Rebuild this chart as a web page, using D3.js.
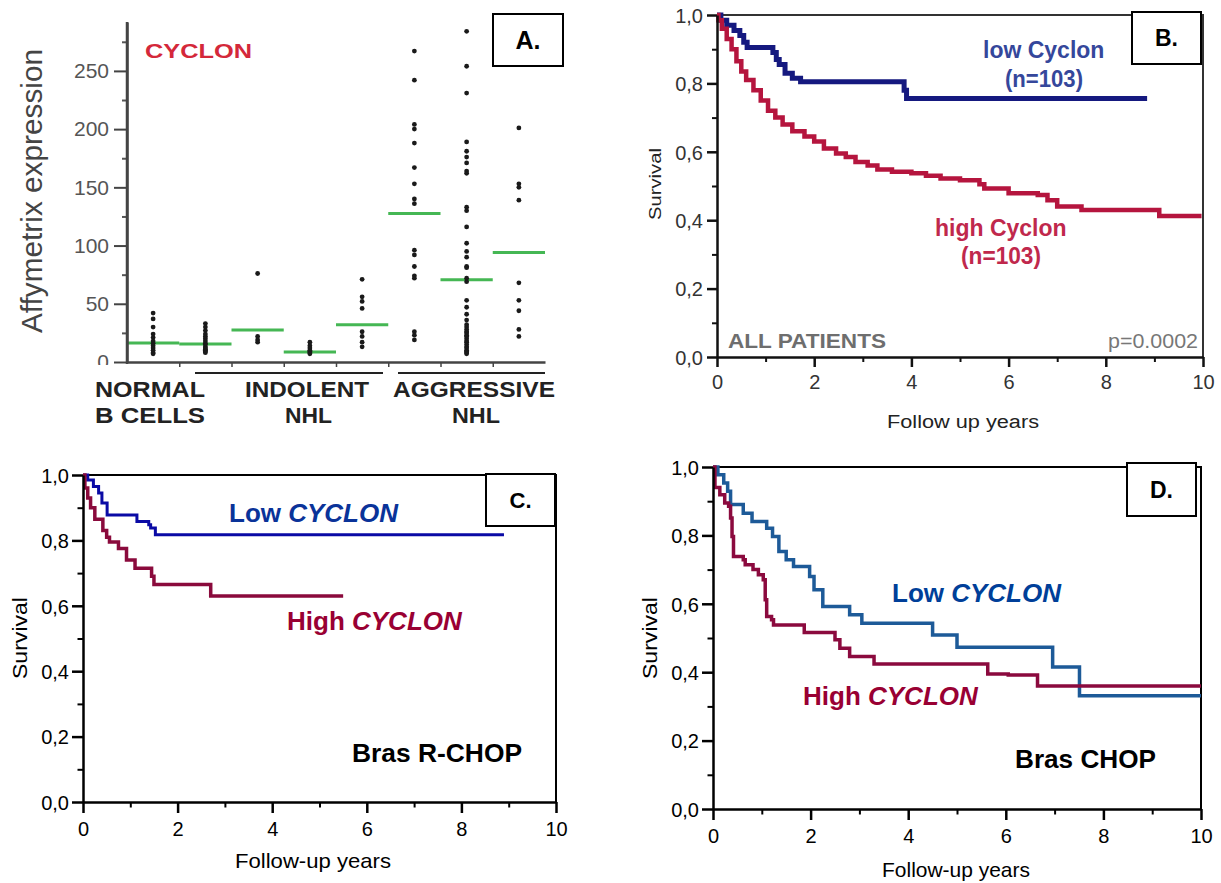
<!DOCTYPE html>
<html><head><meta charset="utf-8">
<script src="https://cdn.jsdelivr.net/npm/d3@7"></script>
<style>
body{margin:0;background:#fff}
svg{display:block}
text{font-family:"Liberation Sans",Arial,Helvetica,sans-serif}
</style>
</head><body>
<svg id="chart" width="1221" height="883"></svg>
<script>
// ---------------- Panel A data ----------------
const aColumns = ["Normal B 1","Normal B 2","Indolent 1","Indolent 2","Indolent 3","Aggressive 1","Aggressive 2","Aggressive 3"];
const normal1 = [42,37,30,24,21,18,16,14,12,10,8,7];
const normal2 = [33,30,27,24,22,20,18,16,15,13,12,11,10,9,8];
const indolent1 = [76,22,19,17];
const indolent2 = [17,14,12,10,9,8,7];
const indolent3 = [71,56,52,46,26,22,17,13];
const aggressive1 = [267,242,204,200,188,167,153,140,136,96,92,82,74,72,26,23,19];
const aggressive2 = [284,254,231,189,181,176,171,164,162,133,130,116,102,95,90,82,81,72,69,53,47,41,36,32,30,28,26,25,23,22,20,18,17,15,13,12,10,9,8,7];
const aggressive3 = [201,153,150,139,68,53,44,28,22];
const aMeans = [16.4,15.5,27.5,8.6,32,127.6,70.7,94];
const aYTicks = [0,50,100,150,200,250];
const aYMinor = [25,75,125,175,225,275];

// ---------------- Survival data [years, survival] ----------------
const survTicks = [0,0.2,0.4,0.6,0.8,1.0];
const survMinor = [0.1,0.3,0.5,0.7,0.9];
const yearTicks = [0,2,4,6,8,10];
const yearMinor = [1,3,5,7,9];

const bLow = [[0,1],[0.08,0.985],[0.2,0.97],[0.35,0.955],[0.47,0.94],[0.55,0.92],[0.62,0.905],[1.15,0.89],[1.22,0.87],[1.28,0.855],[1.4,0.83],[1.55,0.815],[1.72,0.805],[3.85,0.78],[3.9,0.756],[8.85,0.756]];
const bHigh = [[0,1],[0.03,0.985],[0.1,0.96],[0.2,0.93],[0.3,0.9],[0.4,0.865],[0.5,0.835],[0.6,0.81],[0.75,0.78],[0.9,0.75],[1.05,0.72],[1.2,0.7],[1.35,0.68],[1.55,0.66],[1.8,0.645],[2.0,0.63],[2.2,0.61],[2.45,0.595],[2.65,0.585],[2.85,0.57],[3.1,0.56],[3.3,0.548],[3.6,0.542],[4.0,0.537],[4.3,0.53],[4.6,0.522],[5.0,0.517],[5.4,0.505],[5.5,0.493],[6.0,0.479],[6.6,0.474],[6.8,0.458],[7.0,0.44],[7.5,0.43],[9.1,0.412],[9.97,0.412]];
const cLow = [[0,1],[0.1,0.985],[0.22,0.965],[0.33,0.945],[0.4,0.914],[0.51,0.878],[1.14,0.858],[1.39,0.848],[1.43,0.838],[1.53,0.817],[8.9,0.817]];
const cHigh = [[0,1],[0.04,0.96],[0.1,0.93],[0.16,0.9],[0.25,0.865],[0.42,0.83],[0.5,0.81],[0.56,0.795],[0.75,0.775],[0.92,0.74],[1.1,0.715],[1.45,0.69],[1.5,0.665],[2.7,0.63],[5.5,0.63]];
const dLow = [[0,1],[0.1,0.977],[0.22,0.953],[0.3,0.929],[0.36,0.89],[0.62,0.865],[0.8,0.841],[1.1,0.821],[1.22,0.797],[1.35,0.753],[1.5,0.729],[1.65,0.709],[1.98,0.68],[2.07,0.641],[2.25,0.592],[2.8,0.568],[3.05,0.543],[4.5,0.509],[5.0,0.473],[6.96,0.415],[7.51,0.331],[10,0.331]];
const dHigh = [[0,1],[0.04,0.94],[0.14,0.919],[0.24,0.895],[0.32,0.885],[0.36,0.851],[0.39,0.797],[0.42,0.738],[0.62,0.729],[0.66,0.714],[0.82,0.7],[0.93,0.685],[1.03,0.67],[1.07,0.612],[1.1,0.563],[1.2,0.553],[1.24,0.538],[1.87,0.516],[2.5,0.495],[2.6,0.47],[2.8,0.446],[3.3,0.424],[5.63,0.395],[6.05,0.392],[6.65,0.36],[10,0.36]];

const svg = d3.select("#chart");
svg.append("rect").attr("width",1221).attr("height",883).attr("fill","#fff");
const FONT = '"Liberation Sans",Arial,sans-serif';

function styleAxis(g, o){
  g.attr("font-family",FONT).attr("font-size",o.fs).attr("fill",o.tc);
  g.select(".domain").attr("stroke",o.ac).attr("stroke-width",o.aw);
  g.selectAll(".tick line").attr("stroke",o.ac).attr("stroke-width",o.tw||o.aw);
  g.selectAll(".tick text").attr("fill",o.tc);
}
function txt(x,y,s,o){
  const t = svg.append("text").attr("x",x).attr("y",y).text(s)
    .attr("font-size",o.fs).attr("fill",o.c||"#000")
    .attr("font-weight",o.fw||"normal").attr("text-anchor",o.a||"start");
  if(o.fst) t.attr("font-style",o.fst);
  if(o.tl) t.attr("textLength",o.tl).attr("lengthAdjust","spacingAndGlyphs");
  if(o.rot) t.attr("transform",`rotate(-90,${x},${y})`);
  return t;
}
function rich(x,y,parts,o){
  const t = svg.append("text").attr("x",x).attr("y",y).attr("font-size",o.fs).attr("font-weight","bold").attr("fill",o.c);
  parts.forEach(p=>t.append("tspan").text(p[0]).attr("font-style",p[1]?"italic":"normal"));
}
function box(x,y,w,h,s,fs){
  svg.append("rect").attr("x",x).attr("y",y).attr("width",w).attr("height",h).attr("fill","#fff").attr("stroke","#000").attr("stroke-width",2);
  txt(x+w/2,y+h/2+fs*0.36,s,{fs:fs,fw:"bold",a:"middle"});
}

// ================= Panel A =================
(function(){
  const cols = [normal1,normal2,indolent1,indolent2,indolent3,aggressive1,aggressive2,aggressive3];
  const x = d3.scaleBand().domain(aColumns).range([127,545]);
  const xi = d3.scaleLinear().domain([0,8]).range([127,545]);
  const y = d3.scaleLinear().domain([0,292]).range([362,22]);
  const g = svg.append("g");
  // means
  g.selectAll("line.mean").data(aMeans).join("line")
    .attr("x1",(d,i)=>x(aColumns[i])).attr("x2",(d,i)=>x(aColumns[i])+x.bandwidth())
    .attr("y1",d=>y(d)).attr("y2",d=>y(d))
    .attr("stroke","#3cb44b").attr("stroke-width",3).attr("opacity",0.95);
  // dots
  cols.forEach((vals,i)=>{
    g.selectAll(null).data(vals).join("circle")
      .attr("cx",x(aColumns[i])+x.bandwidth()/2).attr("cy",d=>y(d)).attr("r",2.4).attr("fill","#1a1a1a");
  });
  // clip for y labels (in local coords of the translated axis group)
  svg.append("clipPath").attr("id","clipA").append("rect").attr("x",-130).attr("y",0).attr("width",134).attr("height",365);
  const ya = svg.append("g").attr("transform","translate(127,0)").attr("clip-path","url(#clipA)")
    .call(d3.axisLeft(y).tickValues(aYTicks).tickSize(13).tickSizeOuter(0).tickPadding(5).tickFormat(d3.format("d")));
  styleAxis(ya,{fs:21,tc:"#555",ac:"#444",aw:2.5,tw:2});
  const yam = svg.append("g").attr("transform","translate(127,0)")
    .call(d3.axisLeft(y).tickValues(aYMinor).tickSize(5).tickSizeOuter(0).tickFormat(""));
  yam.select(".domain").remove();
  yam.selectAll(".tick line").attr("stroke","#555").attr("stroke-width",2);
  svg.append("line").attr("x1",127).attr("x2",127).attr("y1",22).attr("y2",364).attr("stroke","#444").attr("stroke-width",2.5);
  const xa = svg.append("g").attr("transform","translate(0,362)")
    .call(d3.axisBottom(xi).tickValues([1,2,3,4,5,6,7]).tickSize(5).tickSizeOuter(0).tickFormat(""));
  styleAxis(xa,{fs:10,tc:"#000",ac:"#444",aw:2.5,tw:1.5});
  // group underlines
  svg.append("line").attr("x1",195).attr("x2",383).attr("y1",373).attr("y2",373).attr("stroke","#222").attr("stroke-width",2);
  svg.append("line").attr("x1",398).attr("x2",545).attr("y1",373).attr("y2",373).attr("stroke","#222").attr("stroke-width",2);
  const gl = {fs:22,fw:"bold",c:"#222"};
  txt(95,397,"NORMAL",Object.assign({tl:110},gl));
  txt(95,423,"B CELLS",Object.assign({tl:110},gl));
  txt(245,397,"INDOLENT",Object.assign({tl:124},gl));
  txt(285,423,"NHL",Object.assign({tl:47},gl));
  txt(393,397,"AGGRESSIVE",Object.assign({tl:162},gl));
  txt(452,423,"NHL",Object.assign({tl:48},gl));
  txt(145,58,"CYCLON",{fs:21,fw:"bold",c:"#d4283a",tl:107});
  txt(42,191,"Affymetrix  expression",{fs:29,c:"#444",a:"middle",rot:true,tl:284});
  box(493,14,70,52,"A.",25);
})();

// ================= KM panels =================
function km(cfg){
  const x = d3.scaleLinear().domain([0,10]).range([cfg.x0,cfg.x1]);
  const y = d3.scaleLinear().domain([0,1]).range([cfg.y1,cfg.y0]);
  const g = svg.append("g");
  g.append("path").attr("d",`M${cfg.x0},${cfg.y0}H${cfg.x1}V${cfg.y1}`)
    .attr("fill","none").attr("stroke",cfg.frame).attr("stroke-width",cfg.fw);
  const line = d3.line().x(d=>x(d[0])).y(d=>y(d[1])).curve(d3.curveStepAfter);
  cfg.series.forEach(s=>{
    g.append("path").datum(s.data).attr("d",line).attr("fill","none")
      .attr("stroke",s.color).attr("stroke-width",s.w).attr("stroke-linejoin","miter");
  });
  const ax = {fs:cfg.fs,tc:cfg.tc,ac:cfg.ac,aw:cfg.aw};
  const ya = svg.append("g").attr("transform",`translate(${cfg.x0},0)`)
    .call(d3.axisLeft(y).tickValues(survTicks).tickSize(cfg.tk).tickSizeOuter(0).tickPadding(cfg.pad)
      .tickFormat(d=>d3.format(".1f")(d).replace(".",",")));
  styleAxis(ya,ax);
  ya.selectAll(".tick text").attr("dy","0.36em");
  const ym = svg.append("g").attr("transform",`translate(${cfg.x0},0)`)
    .call(d3.axisLeft(y).tickValues(survMinor).tickSize(cfg.tk/2).tickSizeOuter(0).tickFormat(""));
  ym.select(".domain").remove();
  ym.selectAll(".tick line").attr("stroke",cfg.ac).attr("stroke-width",cfg.aw*0.8);
  const xa = svg.append("g").attr("transform",`translate(0,${cfg.y1})`)
    .call(d3.axisBottom(x).tickValues(yearTicks).tickSize(cfg.tk).tickSizeOuter(0).tickPadding(cfg.xpad).tickFormat(d3.format("d")));
  styleAxis(xa,ax);
  const xm = svg.append("g").attr("transform",`translate(0,${cfg.y1})`)
    .call(d3.axisBottom(x).tickValues(yearMinor).tickSize(cfg.tk/2).tickSizeOuter(0).tickFormat(""));
  xm.select(".domain").remove();
  xm.selectAll(".tick line").attr("stroke",cfg.ac).attr("stroke-width",cfg.aw*0.8);
}

// Panel B
km({x0:717,x1:1203,y0:15,y1:357,frame:"#333",fw:2,ac:"#111",aw:2.5,tk:10,pad:4,xpad:8,fs:20,tc:"#333",
  series:[{data:bLow,color:"#15197f",w:5},{data:bHigh,color:"#b5153e",w:4.5}]});
rich(983,58,[["low Cyclon",false]],{fs:23,c:"#35479b"});
txt(1044,87,"(n=103)",{fs:23,fw:"bold",c:"#35479b",a:"middle",tl:78});
rich(935,236,[["high Cyclon",false]],{fs:23,c:"#c0284c"});
txt(1001,264,"(n=103)",{fs:23,fw:"bold",c:"#c0284c",a:"middle",tl:80});
txt(728,348,"ALL PATIENTS",{fs:21,fw:"bold",c:"#6e6e6e",tl:158});
txt(1198,348,"p=0.0002",{fs:21,c:"#777",a:"end",tl:90});
txt(661,184,"Survival",{fs:16,c:"#222",a:"middle",rot:true,tl:72});
txt(963,428,"Follow up years",{fs:18,c:"#222",a:"middle",tl:152});
box(1132,12,69,52,"B.",23);

// Panel C
km({x0:83,x1:556,y0:475,y1:802,frame:"#000",fw:2,ac:"#000",aw:2.5,tk:11,pad:3,xpad:9,fs:20,tc:"#000",
  series:[{data:cLow,color:"#0a0aa5",w:3},{data:cHigh,color:"#8a0a3c",w:3.5}]});
rich(229,522,[["Low ",false],["CYCLON",true]],{fs:26,c:"#0a3399"});
rich(287,630,[["High ",false],["CYCLON",true]],{fs:26,c:"#990033"});
txt(352,762,"Bras R-CHOP",{fs:26,fw:"bold",c:"#000",tl:170});
txt(27,638,"Survival",{fs:21,c:"#000",a:"middle",rot:true,tl:82});
txt(313,868,"Follow-up years",{fs:21,c:"#000",a:"middle",tl:156});
box(486,474,69,52,"C.",22);

// Panel D
km({x0:713,x1:1201,y0:467,y1:809,frame:"#000",fw:2,ac:"#000",aw:2.5,tk:11,pad:3,xpad:9,fs:20,tc:"#000",
  series:[{data:dLow,color:"#1d5a98",w:3.5},{data:dHigh,color:"#8b0a3e",w:3.5}]});
rich(892,602,[["Low ",false],["CYCLON",true]],{fs:26,c:"#003f99"});
rich(803,705,[["High ",false],["CYCLON",true]],{fs:26,c:"#990033"});
txt(1015,768,"Bras CHOP",{fs:26,fw:"bold",c:"#000",tl:141});
txt(657,638,"Survival",{fs:21,c:"#000",a:"middle",rot:true,tl:82});
txt(956,877,"Follow-up years",{fs:21,c:"#000",a:"middle",tl:148});
box(1127,463,69,53,"D.",23);
</script>
</body></html>
